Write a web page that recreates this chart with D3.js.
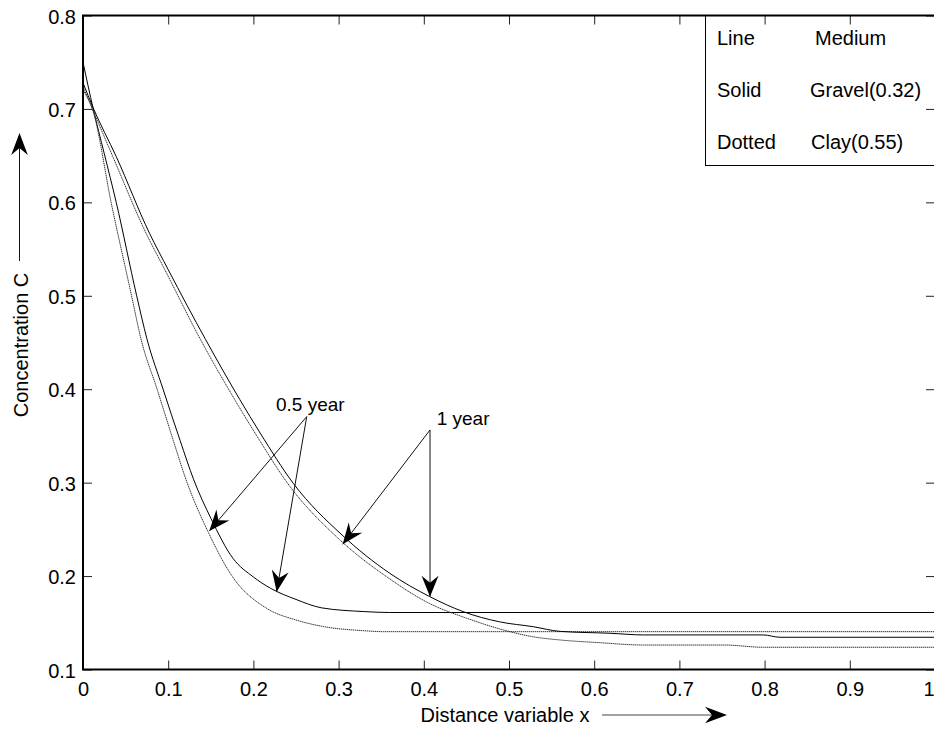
<!DOCTYPE html>
<html><head><meta charset="utf-8">
<script src="https://cdn.jsdelivr.net/npm/d3@7/dist/d3.min.js"></script>
<style>
body{margin:0;background:#fff}
svg{display:block}
text{font-family:"Liberation Sans",Arial,Helvetica,sans-serif;fill:#000}
</style>
</head><body>
<svg id="chart" width="934" height="729"></svg>
<script>
// ---- data ----
const xTicks = [0,0.1,0.2,0.3,0.4,0.5,0.6,0.7,0.8,0.9,1];
const xTickLabels = ["0","0.1","0.2","0.3","0.4","0.5","0.6","0.7","0.8","0.9","1"];
const yTicks = [0.1,0.2,0.3,0.4,0.5,0.6,0.7,0.8];
const yTickLabels = ["0.1","0.2","0.3","0.4","0.5","0.6","0.7","0.8"];

// 0.5 year, gravel (solid)
const gravelHalfX = [0,0.012,0.025,0.039,0.063,0.075,0.094,0.114,0.13,0.15,0.176,0.2,0.22,0.25,0.28,0.33,0.36,1.0];
const gravelHalfC = [0.75,0.70,0.652,0.60,0.50,0.454,0.40,0.345,0.303,0.262,0.219,0.199,0.187,0.175,0.166,0.162,0.161,0.161];
// 0.5 year, clay (dotted)
const clayHalfX = [0,0.012,0.033,0.057,0.068,0.087,0.106,0.121,0.147,0.1765,0.2155,0.25,0.282,0.33,0.3525,1.0];
const clayHalfC = [0.72,0.697,0.60,0.50,0.454,0.40,0.345,0.303,0.247,0.198,0.1655,0.153,0.146,0.1415,0.1405,0.1405];
// 1 year, gravel (solid)
const gravelOneX = [0,0.012,0.039,0.078,0.10,0.144,0.184,0.208,0.247,0.304,0.36,0.407,0.446,0.489,0.5285,0.56,0.6185,0.658,0.7985,0.818,1.0];
const gravelOneC = [0.728,0.701,0.649,0.567,0.528,0.453,0.389,0.353,0.299,0.244,0.203,0.178,0.162,0.151,0.1458,0.1408,0.1388,0.137,0.137,0.1345,0.1345];
// 1 year, clay (dotted)
const clayOneX = [0,0.012,0.035,0.074,0.096,0.138,0.178,0.202,0.242,0.30,0.36,0.407,0.45,0.501,0.5285,0.56,0.6067,0.658,0.753,0.7985,1.0];
const clayOneC = [0.724,0.698,0.649,0.567,0.528,0.453,0.389,0.353,0.297,0.240,0.197,0.1705,0.155,0.1405,0.135,0.1316,0.1287,0.1262,0.1262,0.1238,0.1238];

const legendLine = ["Line","Solid","Dotted"];
const legendMedium = ["Medium","Gravel(0.32)","Clay(0.55)"];

// annotations (data coordinates)
const annoLabels = ["0.5 year","1 year"];
const annoLabelPos = [[0.2265,0.3762],[0.4151,0.3618]];
const annoStarts = [[0.2626,0.3707],[0.4073,0.3564]];
const annoTips = [[[0.1482,0.2483],[0.2273,0.1833]],[[0.3048,0.234],[0.4073,0.178]]];

// ---- layout ----
const svg = d3.select("#chart");
const L = 83, R = 935, T = 15.5, B = 669.5;
const x = d3.scaleLinear().domain([0,1]).range([L,R]);
const y = d3.scaleLinear().domain([0.1,0.8]).range([B,T]);
const FS = 20;

svg.append("rect").attr("width",934).attr("height",729).attr("fill","#fff");

svg.append("clipPath").attr("id","clip").append("rect")
  .attr("x",L).attr("y",T).attr("width",R-L).attr("height",B-T);

// curves
const series = [
  {xs:gravelHalfX, cs:gravelHalfC, dotted:false},
  {xs:clayHalfX, cs:clayHalfC, dotted:true},
  {xs:gravelOneX, cs:gravelOneC, dotted:false},
  {xs:clayOneX, cs:clayOneC, dotted:true}
];
const line = d3.line().x(d=>x(d[0])).y(d=>y(d[1])).curve(d3.curveMonotoneX);
const gCurves = svg.append("g").attr("clip-path","url(#clip)");
series.forEach(s=>{
  const pts = s.xs.map((v,i)=>[v,s.cs[i]]);
  gCurves.append("path").attr("d",line(pts)).attr("fill","none")
    .attr("stroke", s.dotted ? "#333" : "#000")
    .attr("stroke-width", 1)
    .attr("stroke-dasharray", s.dotted ? "1.4,0.6" : null);
});

// legend box
const lg = svg.append("g");
lg.append("rect").attr("x",705.5).attr("y",T).attr("width",260).attr("height",150)
  .attr("fill","#fff").attr("stroke","#000").attr("stroke-width",1);
const legRowY = [45, 97, 149];
const legColX = [815, 810, 811];
legendLine.forEach((t,i)=>{
  lg.append("text").attr("x",717).attr("y",legRowY[i]).attr("font-size",FS).text(t);
});
legendMedium.forEach((t,i)=>{
  lg.append("text").attr("x",legColX[i]).attr("y",legRowY[i]).attr("font-size",FS).text(t);
});

// axes with inward ticks
const xAxisB = d3.axisBottom(x).tickValues(xTicks).tickFormat((d,i)=>xTickLabels[i]).tickSizeInner(-9).tickSizeOuter(0).tickPadding(12);
const xAxisT = d3.axisTop(x).tickValues(xTicks).tickFormat("").tickSizeInner(-9).tickSizeOuter(0);
const yAxisL = d3.axisLeft(y).tickValues(yTicks).tickFormat((d,i)=>yTickLabels[i]).tickSizeInner(-9).tickSizeOuter(0).tickPadding(7);
const yAxisR = d3.axisRight(y).tickValues(yTicks).tickFormat("").tickSizeInner(-9).tickSizeOuter(0);

function style(g){
  g.select(".domain").remove();
  g.selectAll(".tick line").attr("stroke","#222").attr("stroke-width",1);
  g.selectAll("text").attr("font-size",FS).attr("font-family",null).attr("fill","#000");
}
const gxb = svg.append("g").attr("transform",`translate(0,${B})`).call(xAxisB).call(style);
// keep the last label ("1") inside the window
gxb.selectAll(".tick text").filter(d=>d===1).attr("text-anchor","end").attr("x",-1);
svg.append("g").attr("transform",`translate(0,${T})`).call(xAxisT).call(style);
svg.append("g").attr("transform",`translate(${L},0)`).call(yAxisL).call(style)
  .selectAll("text").attr("dy","0.38em");
svg.append("g").attr("transform",`translate(${R},0)`).call(yAxisR).call(style);

// box
svg.append("rect").attr("x",L).attr("y",T).attr("width",R-L).attr("height",B-T)
  .attr("fill","none").attr("stroke","#000").attr("stroke-width",2);

function arrowHead(g, sx, sy, tx, ty, len=21, half=8.5, notch=14){
  const dx = tx-sx, dy = ty-sy, d = Math.hypot(dx,dy);
  const ux = dx/d, uy = dy/d, nx = -uy, ny = ux;
  const pts = [
    [tx,ty],
    [tx-len*ux+half*nx, ty-len*uy+half*ny],
    [tx-notch*ux, ty-notch*uy],
    [tx-len*ux-half*nx, ty-len*uy-half*ny]
  ];
  g.append("polygon").attr("points",pts.map(p=>p.join(",")).join(" ")).attr("fill","#000");
}

// annotations
const ga = svg.append("g");
annoLabels.forEach((t,i)=>{
  ga.append("text").attr("x",x(annoLabelPos[i][0])).attr("y",y(annoLabelPos[i][1]))
    .attr("font-size",FS-1).text(t);
  const [sx,sy] = [x(annoStarts[i][0]), y(annoStarts[i][1])];
  annoTips[i].forEach(tp=>{
    const tx = x(tp[0]), ty = y(tp[1]);
    ga.append("line").attr("x1",sx).attr("y1",sy).attr("x2",tx).attr("y2",ty)
      .attr("stroke","#111").attr("stroke-width",1);
    arrowHead(ga, sx, sy, tx, ty);
  });
});

// axis titles with arrows
svg.append("text").attr("x",505).attr("y",722).attr("text-anchor","middle")
  .attr("font-size",FS).text("Distance variable x");
svg.append("line").attr("x1",602).attr("y1",715).attr("x2",715).attr("y2",715)
  .attr("stroke","#444").attr("stroke-width",1);
arrowHead(svg, 602, 715, 727, 715, 22, 8.3, 15);

svg.append("text").attr("transform","translate(28,345) rotate(-90)").attr("text-anchor","middle")
  .attr("font-size",FS).text("Concentration C");
svg.append("line").attr("x1",19.5).attr("y1",261).attr("x2",19.5).attr("y2",145)
  .attr("stroke","#111").attr("stroke-width",1);
arrowHead(svg, 19.5, 261, 19.5, 133, 22, 8.3, 15);
</script>
</body></html>
